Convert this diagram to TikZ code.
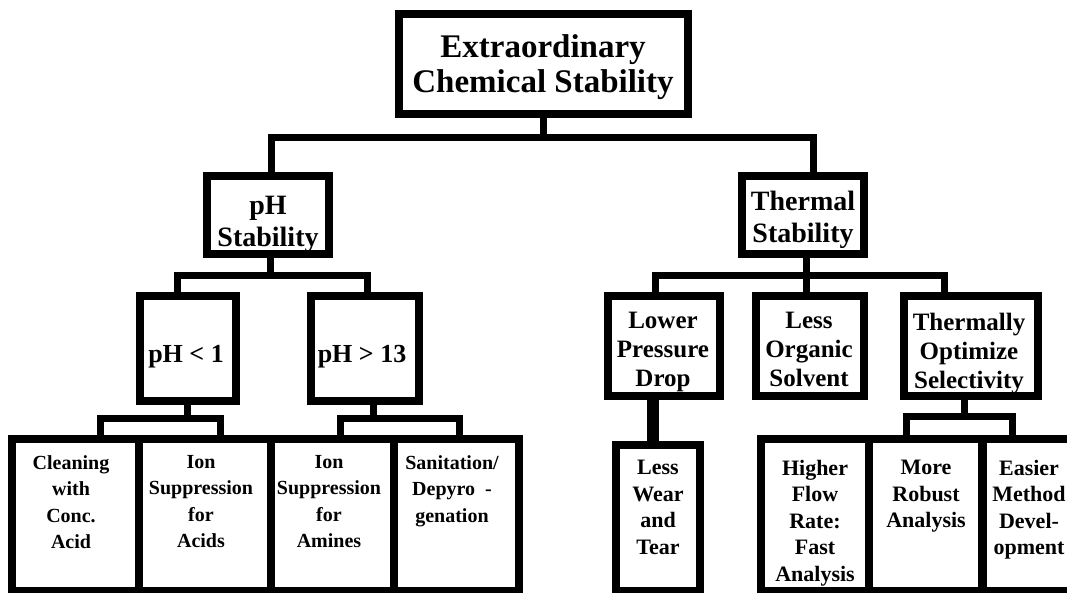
\documentclass[tikz,border=0pt]{standalone}
\usepackage{fontspec}
\setmainfont{Liberation Serif}
\begin{document}
\begin{tikzpicture}[x=1pt,y=-1pt,
  box/.style={draw=black, line width=8pt, inner sep=0pt, outer sep=0pt},
  conn/.style={draw=black, line width=7pt},
  thick conn/.style={draw=black, line width=12pt},
  txt/.style={inner sep=0pt, align=center, text=black},
  big/.style={font=\fontsize{33}{35}\selectfont\bfseries},
  mid/.style={font=\fontsize{28}{32}\selectfont\bfseries},
  midb/.style={font=\fontsize{26}{30}\selectfont\bfseries},
  low/.style={font=\fontsize{25}{29}\selectfont\bfseries},
  smallL/.style={font=\fontsize{20}{26.5}\selectfont\bfseries},
  smallR/.style={font=\fontsize{22}{26.5}\selectfont\bfseries}]
\fill[white] (0,0) rectangle (1067,592);
\useasboundingbox (0,0) rectangle (1067,592);

% boxes
\node[box, minimum width=289pt, minimum height=100pt] (top) at (543.5,64) {};
\node[box, minimum width=122pt, minimum height=78pt] (ph) at (268,215) {};
\node[box, minimum width=122pt, minimum height=78pt] (th) at (803,215) {};
\node[box, minimum width=96pt, minimum height=105pt] (ph1) at (188,348.5) {};
\node[box, minimum width=108pt, minimum height=105pt] (ph13) at (365,348.5) {};
\node[box, minimum width=112pt, minimum height=100pt] (lp) at (664,346) {};
\node[box, minimum width=108pt, minimum height=100pt] (lo) at (810,346) {};
\node[box, minimum width=134pt, minimum height=100pt] (to) at (971,346) {};
\node[box, minimum width=127pt, minimum height=152pt] (c1) at (75.5,515) {};
\node[box, minimum width=132pt, minimum height=152pt] (c2) at (205,515) {};
\node[box, minimum width=123pt, minimum height=152pt] (c3) at (332.5,515) {};
\node[box, minimum width=125pt, minimum height=152pt] (c4) at (456.5,515) {};
\node[box, minimum width=84pt, minimum height=146pt] (lw) at (658,518) {};
\node[box, minimum width=108pt, minimum height=152pt] (r1) at (815,515) {};
\node[box, minimum width=114pt, minimum height=152pt] (r2) at (926,515) {};
\node[box, minimum width=99pt, minimum height=152pt] (r3) at (1031.5,515) {};

% bus levels
\coordinate (bus1) at (0,137);
\coordinate (bus2) at (0,275);
\coordinate (bus3) at (0,418);
\coordinate (bus4) at (0,416);

% connector end points
\coordinate (phT) at ([xshift=3pt]ph.north);
\coordinate (thT) at ([xshift=10pt]th.north);
\coordinate (phB) at ([xshift=2pt]ph.south);
\coordinate (thB) at ([xshift=3pt]th.south);
\coordinate (ph1T) at ([xshift=-11pt]ph1.north);
\coordinate (ph13T) at ([xshift=2pt]ph13.north);
\coordinate (lpT) at ([xshift=-9pt]lp.north);
\coordinate (toT) at ([xshift=-27pt]to.north);
\coordinate (ph1B) at ([xshift=-1pt]ph1.south);
\coordinate (ph13B) at ([xshift=8pt]ph13.south);
\coordinate (c1T) at ([xshift=24.5pt]c1.north);
\coordinate (c2T) at ([xshift=15pt]c2.north);
\coordinate (c3T) at ([xshift=7.5pt]c3.north);
\coordinate (c4T) at ([xshift=3pt]c4.north);
\coordinate (lpB) at ([xshift=-11pt]lp.south);
\coordinate (toB) at ([xshift=-7pt]to.south);
\coordinate (r2T) at ([xshift=-20pt]r2.north);
\coordinate (r3T) at ([xshift=-19.5pt]r3.north);

% connectors
\draw[conn] (top.south) -- (top.south |- bus1);
\draw[conn] (phT) |- (thT |- bus1) -- (thT);
\draw[conn] (phB) -- (phB |- bus2);
\draw[conn] (ph1T) |- (ph13T |- bus2) -- (ph13T);
\draw[conn] (thB) -- (thB |- lo.north);
\draw[conn] (lpT) |- (toT |- bus2) -- (toT);
\draw[conn] (ph1B) -- (ph1B |- bus3);
\draw[conn] (c1T) |- (c2T |- bus3) -- (c2T);
\draw[conn] (ph13B) -- (ph13B |- bus3);
\draw[conn] (c3T) |- (c4T |- bus3) -- (c4T);
\draw[thick conn] (lpB) -- (lpB |- lw.north);
\draw[conn] (toB) -- (toB |- bus4);
\draw[conn] (r2T) |- (r3T |- bus4) -- (r3T);

% texts
\node[txt, big, anchor=north] (t0) at (543,34) {Extraordinary\\Chemical Stability};
\node[txt, mid, anchor=north] (tph) at (268,196) {pH\\Stability};
\node[txt, mid, anchor=north] (tth) at (803,191) {Thermal\\Stability};
\node[txt, midb] (tph1) at (186,357) {pH < 1};
\node[txt, midb] (tph13) at (362,357) {pH > 13};
\node[txt, low, anchor=north] (tlp) at (663,312) {Lower\\Pressure\\Drop};
\node[txt, low, anchor=north] (tlo) at (809,312) {Less\\Organic\\Solvent};
\node[txt, low, anchor=north] (tto) at (969,313) {Thermally\\Optimize\\Selectivity};
\node[txt, smallL, anchor=north] (tc1) at (71,455) {Cleaning\\with\\Conc.\\Acid};
\node[txt, smallL, anchor=north] (tc2) at (201,455) {Ion\\Suppression\\for\\Acids};
\node[txt, smallL, anchor=north] (tc3) at (329,455) {Ion\\Suppression\\for\\Amines};
\node[txt, smallL, anchor=north] (tc4) at (452,455) {Sanitation/\\Depyro\ \ -\\genation};
\node[txt, smallR, anchor=north] (tlw) at (658,460) {Less\\Wear\\and\\Tear};
\node[txt, smallR, anchor=north] (tr1) at (815,460) {Higher\\Flow\\Rate:\\Fast\\Analysis};
\node[txt, smallR, anchor=north] (tr2) at (926,460) {More\\Robust\\Analysis};
\node[txt, smallR, anchor=north] (tr3) at (1029,460) {Easier\\Method\\Devel-\\opment};
\end{tikzpicture}
\end{document}
